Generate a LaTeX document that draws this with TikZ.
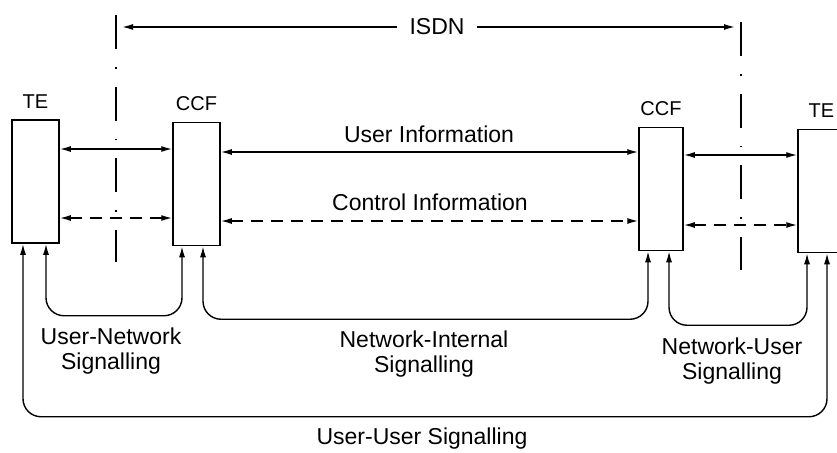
\documentclass[tikz,border=0pt]{standalone}
\usepackage{fontspec}
\setmainfont{Liberation Sans}
\usetikzlibrary{arrows.meta, positioning}

\tikzset{
  box/.style={draw, line width=1.5pt, minimum width=47pt, minimum height=123pt, inner sep=0pt},
  boxlabel/.style={font=\fontsize{20}{22}\selectfont, inner sep=0pt},
  info/.style={<->, line width=1.4pt},
  ctrl/.style={<->, line width=1.4pt, dash pattern=on 12pt off 8pt},
  sig/.style={<->, line width=1.4pt, rounded corners=18pt},
  span/.style={->, line width=1.4pt, shorten >=6pt},
  boundary/.style={line width=1.4pt, dash pattern=on 34pt off 18pt on 1.5pt off 18pt},
  txt/.style={font=\fontsize{23}{25}\selectfont, align=center, inner sep=0pt}
}

\begin{document}
\begin{tikzpicture}[x=1pt, y=-1pt, on grid, label distance=11pt,
    >={Latex[length=11pt,width=6pt]}]
  \useasboundingbox (0,0) rectangle (837,452);
  \clip (0,0) rectangle (837,452);

  % terminals and call control functions
  \node[box, label={[boxlabel]above:TE}]  (teL)  at (35.5,181.5) {};
  \node[box, label={[boxlabel]above:CCF}] (ccfL) [right=161pt of teL, yshift=-2.5pt] {};
  \node[box, minimum width=44pt, label={[boxlabel]above:CCF}] (ccfR) [right=464.5pt of ccfL, yshift=-5pt] {};
  \node[box, label={[boxlabel]above:TE}]  (teR)  [right=160.5pt of ccfR, yshift=-2pt] {};

  % ISDN boundaries
  \coordinate (edgeL) at (116,15);
  \coordinate (edgeR) at (741,22);
  \draw[boundary] (edgeL) -- ++(0,247);
  \draw[boundary] (edgeR) -- ++(0,248);
  \node[txt, inner xsep=12pt] (isdn) at (437,27) {ISDN};
  \draw[span] (isdn) -- (edgeL |- isdn);
  \draw[span] (isdn) -- (edgeR |- isdn);

  % user and control information
  \draw[info] (teL.east |- 0,149) -- (ccfL.west |- 0,149);
  \draw[info] (ccfL.east |- 0,152) -- (ccfR.west |- 0,152);
  \draw[info] (ccfR.east |- 0,155) -- (teR.west |- 0,155);
  \draw[ctrl] (teL.east |- 0,218) -- (ccfL.west |- 0,218);
  \draw[ctrl] (ccfL.east |- 0,221) -- (ccfR.west |- 0,221);
  \draw[ctrl] (ccfR.east |- 0,225) -- (teR.west |- 0,225);
  \node[txt] (uiText) at (429,134) {User Information};
  \node[txt] (ciText) at (430,202) {Control Information};

  % signalling paths
  \draw[sig] ([xshift=10.5pt]teL.south) -- ++(0,72) -| ([xshift=-14.5pt]ccfL.south);
  \draw[sig] ([xshift=6.5pt]ccfL.south) -- ++(0,73) -| ([xshift=-13pt]ccfR.south);
  \draw[sig] ([xshift=8pt]ccfR.south) -- ++(0,74) -| ([xshift=-14.5pt]teR.south);
  \draw[sig] ([xshift=-12.5pt]teL.south) -- ++(0,173) -| ([xshift=5.5pt]teR.south);
  \node[txt] (unText) at (111,351) {User-Network\\Signalling};
  \node[txt] (niText) at (424,354) {Network-Internal\\Signalling};
  \node[txt] (nuText) at (732,361) {Network-User\\Signalling};
  \node[txt] (uuText) at (422,439) {User-User Signalling};
\end{tikzpicture}
\end{document}
